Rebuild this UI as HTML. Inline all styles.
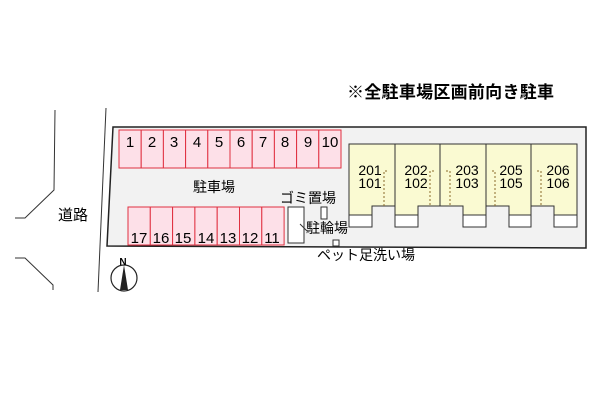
<!DOCTYPE html>
<html><head><meta charset="utf-8"><style>
body{margin:0;background:#fff;}
svg{display:block;font-family:"Liberation Sans","Noto Sans CJK JP",sans-serif;}
</style></head><body>
<svg width="600" height="400" viewBox="0 0 600 400">
<text x="347" y="98" font-size="17" font-weight="bold" textLength="207" fill="#000">※全駐車場区画前向き駐車</text>
<polyline points="55,110 54,190 25,218 15,218" fill="none" stroke="#333" stroke-width="1"/>
<polyline points="15,258 25,258 53,285 53,290" fill="none" stroke="#333" stroke-width="1"/>
<line x1="106" y1="108" x2="98" y2="292" stroke="#333" stroke-width="1"/>
<text x="58" y="220" font-size="15">道路</text>
<polygon points="113,127 586,127 586,248 107,246" fill="#f2f2f2" stroke="#222" stroke-width="1.5"/>
<g fill="#fde0e8" stroke="#e03040" stroke-width="1">
<rect x="119" y="130" width="22.2" height="38"/><rect x="141.2" y="130" width="22.2" height="38"/>
<rect x="163.4" y="130" width="22.2" height="38"/><rect x="185.6" y="130" width="22.2" height="38"/>
<rect x="207.8" y="130" width="22.2" height="38"/><rect x="230" y="130" width="22.2" height="38"/>
<rect x="252.2" y="130" width="22.2" height="38"/><rect x="274.4" y="130" width="22.2" height="38"/>
<rect x="296.6" y="130" width="22.2" height="38"/><rect x="318.8" y="130" width="22.2" height="38"/>
<rect x="128" y="207" width="22.3" height="38"/><rect x="150.3" y="207" width="22.3" height="38"/>
<rect x="172.6" y="207" width="22.3" height="38"/><rect x="194.9" y="207" width="22.3" height="38"/>
<rect x="217.2" y="207" width="22.3" height="38"/><rect x="239.5" y="207" width="22.3" height="38"/>
<rect x="261.8" y="207" width="22.3" height="38"/>
</g>
<g font-size="15" text-anchor="middle">
<text x="130" y="147">1</text><text x="152" y="147">2</text><text x="174" y="147">3</text><text x="197" y="147">4</text><text x="219" y="147">5</text><text x="241" y="147">6</text><text x="263" y="147">7</text><text x="285" y="147">8</text><text x="308" y="147">9</text><text x="330" y="147">10</text>
<text x="139" y="243">17</text><text x="161" y="243">16</text><text x="183" y="243">15</text><text x="206" y="243">14</text><text x="228" y="243">13</text><text x="250" y="243">12</text><text x="272" y="243">11</text>
</g>
<text x="193" y="192" font-size="14">駐車場</text>
<rect x="288" y="207" width="16" height="36" fill="#fff" stroke="#333"/>
<text x="280" y="203" font-size="14">ゴミ置場</text>
<rect x="321" y="207" width="6" height="12" fill="#fff" stroke="#333"/>
<line x1="300" y1="224" x2="307" y2="231" stroke="#333"/>
<text x="306" y="233" font-size="14">駐輪場</text>
<rect x="333" y="240" width="6" height="6" fill="#fff" stroke="#333"/>
<text x="317" y="260" font-size="14">ペット足洗い場</text>
<!-- building -->
<polygon points="349,144 577,144 577,215 554,215 554,206 531,206 531,215 509,215 509,206 486,206 486,215 463,215 463,206 418,206 418,215 395,215 395,206 372,206 372,215 349,215" fill="#fafad2" stroke="#333"/>
<g fill="#fff" stroke="#333">
<rect x="349" y="215" width="23" height="12"/><rect x="395" y="215" width="23" height="12"/>
<rect x="463" y="215" width="23" height="12"/><rect x="509" y="215" width="22" height="12"/>
<rect x="554" y="215" width="23" height="12"/>
</g>
<g stroke="#333"><line x1="395" y1="144" x2="395" y2="206"/><line x1="440" y1="144" x2="440" y2="206"/><line x1="486" y1="144" x2="486" y2="206"/><line x1="531" y1="144" x2="531" y2="206"/></g>
<g stroke="#8a6a2a" stroke-dasharray="2,2" fill="none">
<polyline points="387,171 384,171 384,206"/><polyline points="434,171 430,171 430,206"/><polyline points="446,171 450,171 450,206"/><polyline points="492,171 495,171 495,206"/><polyline points="537,171 541,171 541,206"/>
</g>
<g font-size="14" text-anchor="middle">
<text x="370" y="175">201</text><text x="370" y="188">101</text>
<text x="416" y="175">202</text><text x="416" y="188">102</text>
<text x="467" y="175">203</text><text x="467" y="188">103</text>
<text x="511" y="175">205</text><text x="511" y="188">105</text>
<text x="558" y="175">206</text><text x="558" y="188">106</text>
</g>
<circle cx="124" cy="278" r="13" fill="#fff" stroke="#222" stroke-width="1.2"/>
<polygon points="124,265 120,290 128,290" fill="#222"/>
<text x="123" y="265" font-size="10" font-weight="bold" text-anchor="middle">N</text>
</svg>
</body></html>
